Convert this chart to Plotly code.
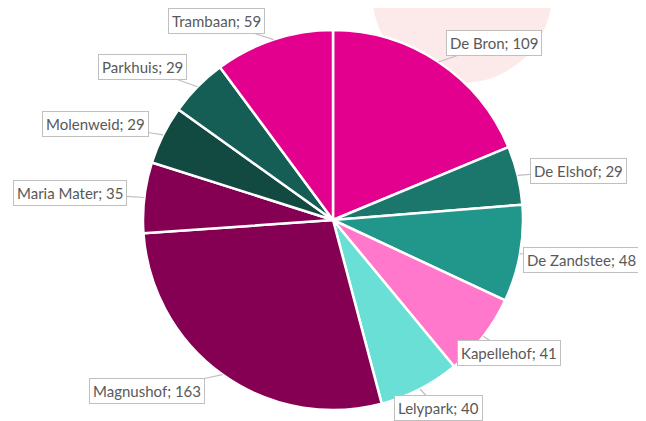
import math
import plotly.graph_objects as go

labels = ["De Bron", "De Elshof", "De Zandstee", "Kapellehof", "Lelypark",
          "Magnushof", "Maria Mater", "Molenweid", "Parkhuis", "Trambaan"]
values = [109, 29, 48, 41, 40, 163, 35, 29, 29, 59]
colors = ["#E4008F", "#1B776B", "#21968A", "#FF78CB", "#6ADFD5",
          "#850052", "#850052", "#124A42", "#155E55", "#E4008F"]
# label box centres in window pixels (layout)
label_pos = [(494, 43), (578, 171), (581, 260), (509, 353), (438, 408),
             (147, 391), (70, 193), (95, 124), (142, 67), (216, 21)]

OFF = 8  # page body margin
W, H = 646 - OFF, 421 - OFF
cx, cy, R = 333 - OFF, 220 - OFF, 190

fig = go.Figure()
fig.add_trace(go.Pie(
    labels=labels, values=values, sort=False, direction="clockwise", rotation=0,
    marker=dict(colors=colors, line=dict(color="white", width=2.5)),
    textinfo="none", hoverinfo="label+value", showlegend=False,
    domain=dict(x=[(cx - R) / W, (cx + R) / W], y=[(H - cy - R) / H, (H - cy + R) / H]),
))

total = sum(values)
cum = 0
for lab, v, (lx, ly) in zip(labels, values, label_pos):
    lx -= OFF
    ly -= OFF
    mid = (cum + v / 2) / total * 2 * math.pi
    cum += v
    tx = cx + R * math.sin(mid)
    ty = cy - R * math.cos(mid)
    fig.add_annotation(
        x=tx / W, y=1 - ty / H, xref="paper", yref="paper",
        ax=lx - tx, ay=ly - ty, axref="pixel", ayref="pixel",
        text=f"{lab}; {v}", showarrow=True, arrowhead=0, arrowwidth=1.2,
        arrowcolor="#BFBFBF", bordercolor="#BFBFBF", borderwidth=1, borderpad=3,
        bgcolor="white", font=dict(family="Lato", size=15, color="#595959"),
    )

fig.add_shape(type="circle", xref="paper", yref="paper",
              x0=(372 - OFF) / W, x1=(552 - OFF) / W,
              y0=1 - (83 - OFF) / H, y1=1 + (97 + OFF) / H,
              fillcolor="#FCEAEB", line=dict(width=0), layer="below")

fig.update_layout(width=W, height=H, margin=dict(l=0, r=0, t=0, b=0),
                  paper_bgcolor="white", plot_bgcolor="white")
fig.write_html("out.html")
